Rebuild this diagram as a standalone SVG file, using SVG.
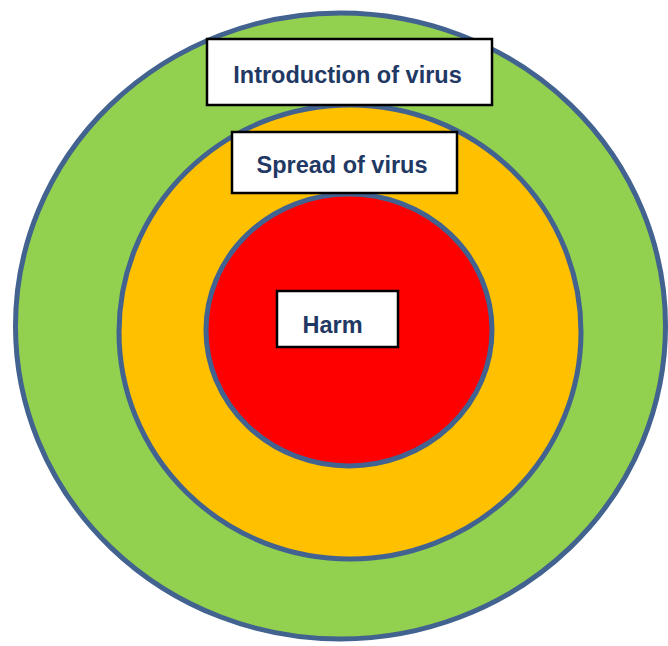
<svg xmlns="http://www.w3.org/2000/svg" width="668" height="646" viewBox="0 0 668 646">
  <style>
    .ring { stroke: #42628f; stroke-width: 5; }
    .box { fill: #ffffff; stroke: #000000; stroke-width: 2.5; }
    .lbl { font-family: "Liberation Sans", Arial, sans-serif; font-weight: bold; font-size: 23.5px; fill: #1f3864; text-anchor: middle; }
  </style>
  <rect width="668" height="646" fill="#ffffff"/>
  <g id="outer">
    <ellipse class="ring" cx="340.5" cy="326" rx="325" ry="313" fill="#92d050"/>
  </g>
  <g id="middle">
    <ellipse class="ring" cx="350" cy="332" rx="231" ry="227" fill="#ffc000"/>
  </g>
  <g id="inner">
    <ellipse class="ring" cx="349" cy="330" rx="143" ry="136" fill="#ff0000"/>
  </g>
  <g id="label-introduction">
    <rect class="box" x="207" y="39" width="285" height="66"/>
    <text class="lbl" x="347.5" y="83">Introduction of virus</text>
  </g>
  <g id="label-spread">
    <rect class="box" x="232" y="132" width="225" height="61"/>
    <text class="lbl" x="342" y="173">Spread of virus</text>
  </g>
  <g id="label-harm">
    <rect class="box" x="277" y="291" width="121" height="56"/>
    <text class="lbl" x="332.5" y="333">Harm</text>
  </g>
</svg>
